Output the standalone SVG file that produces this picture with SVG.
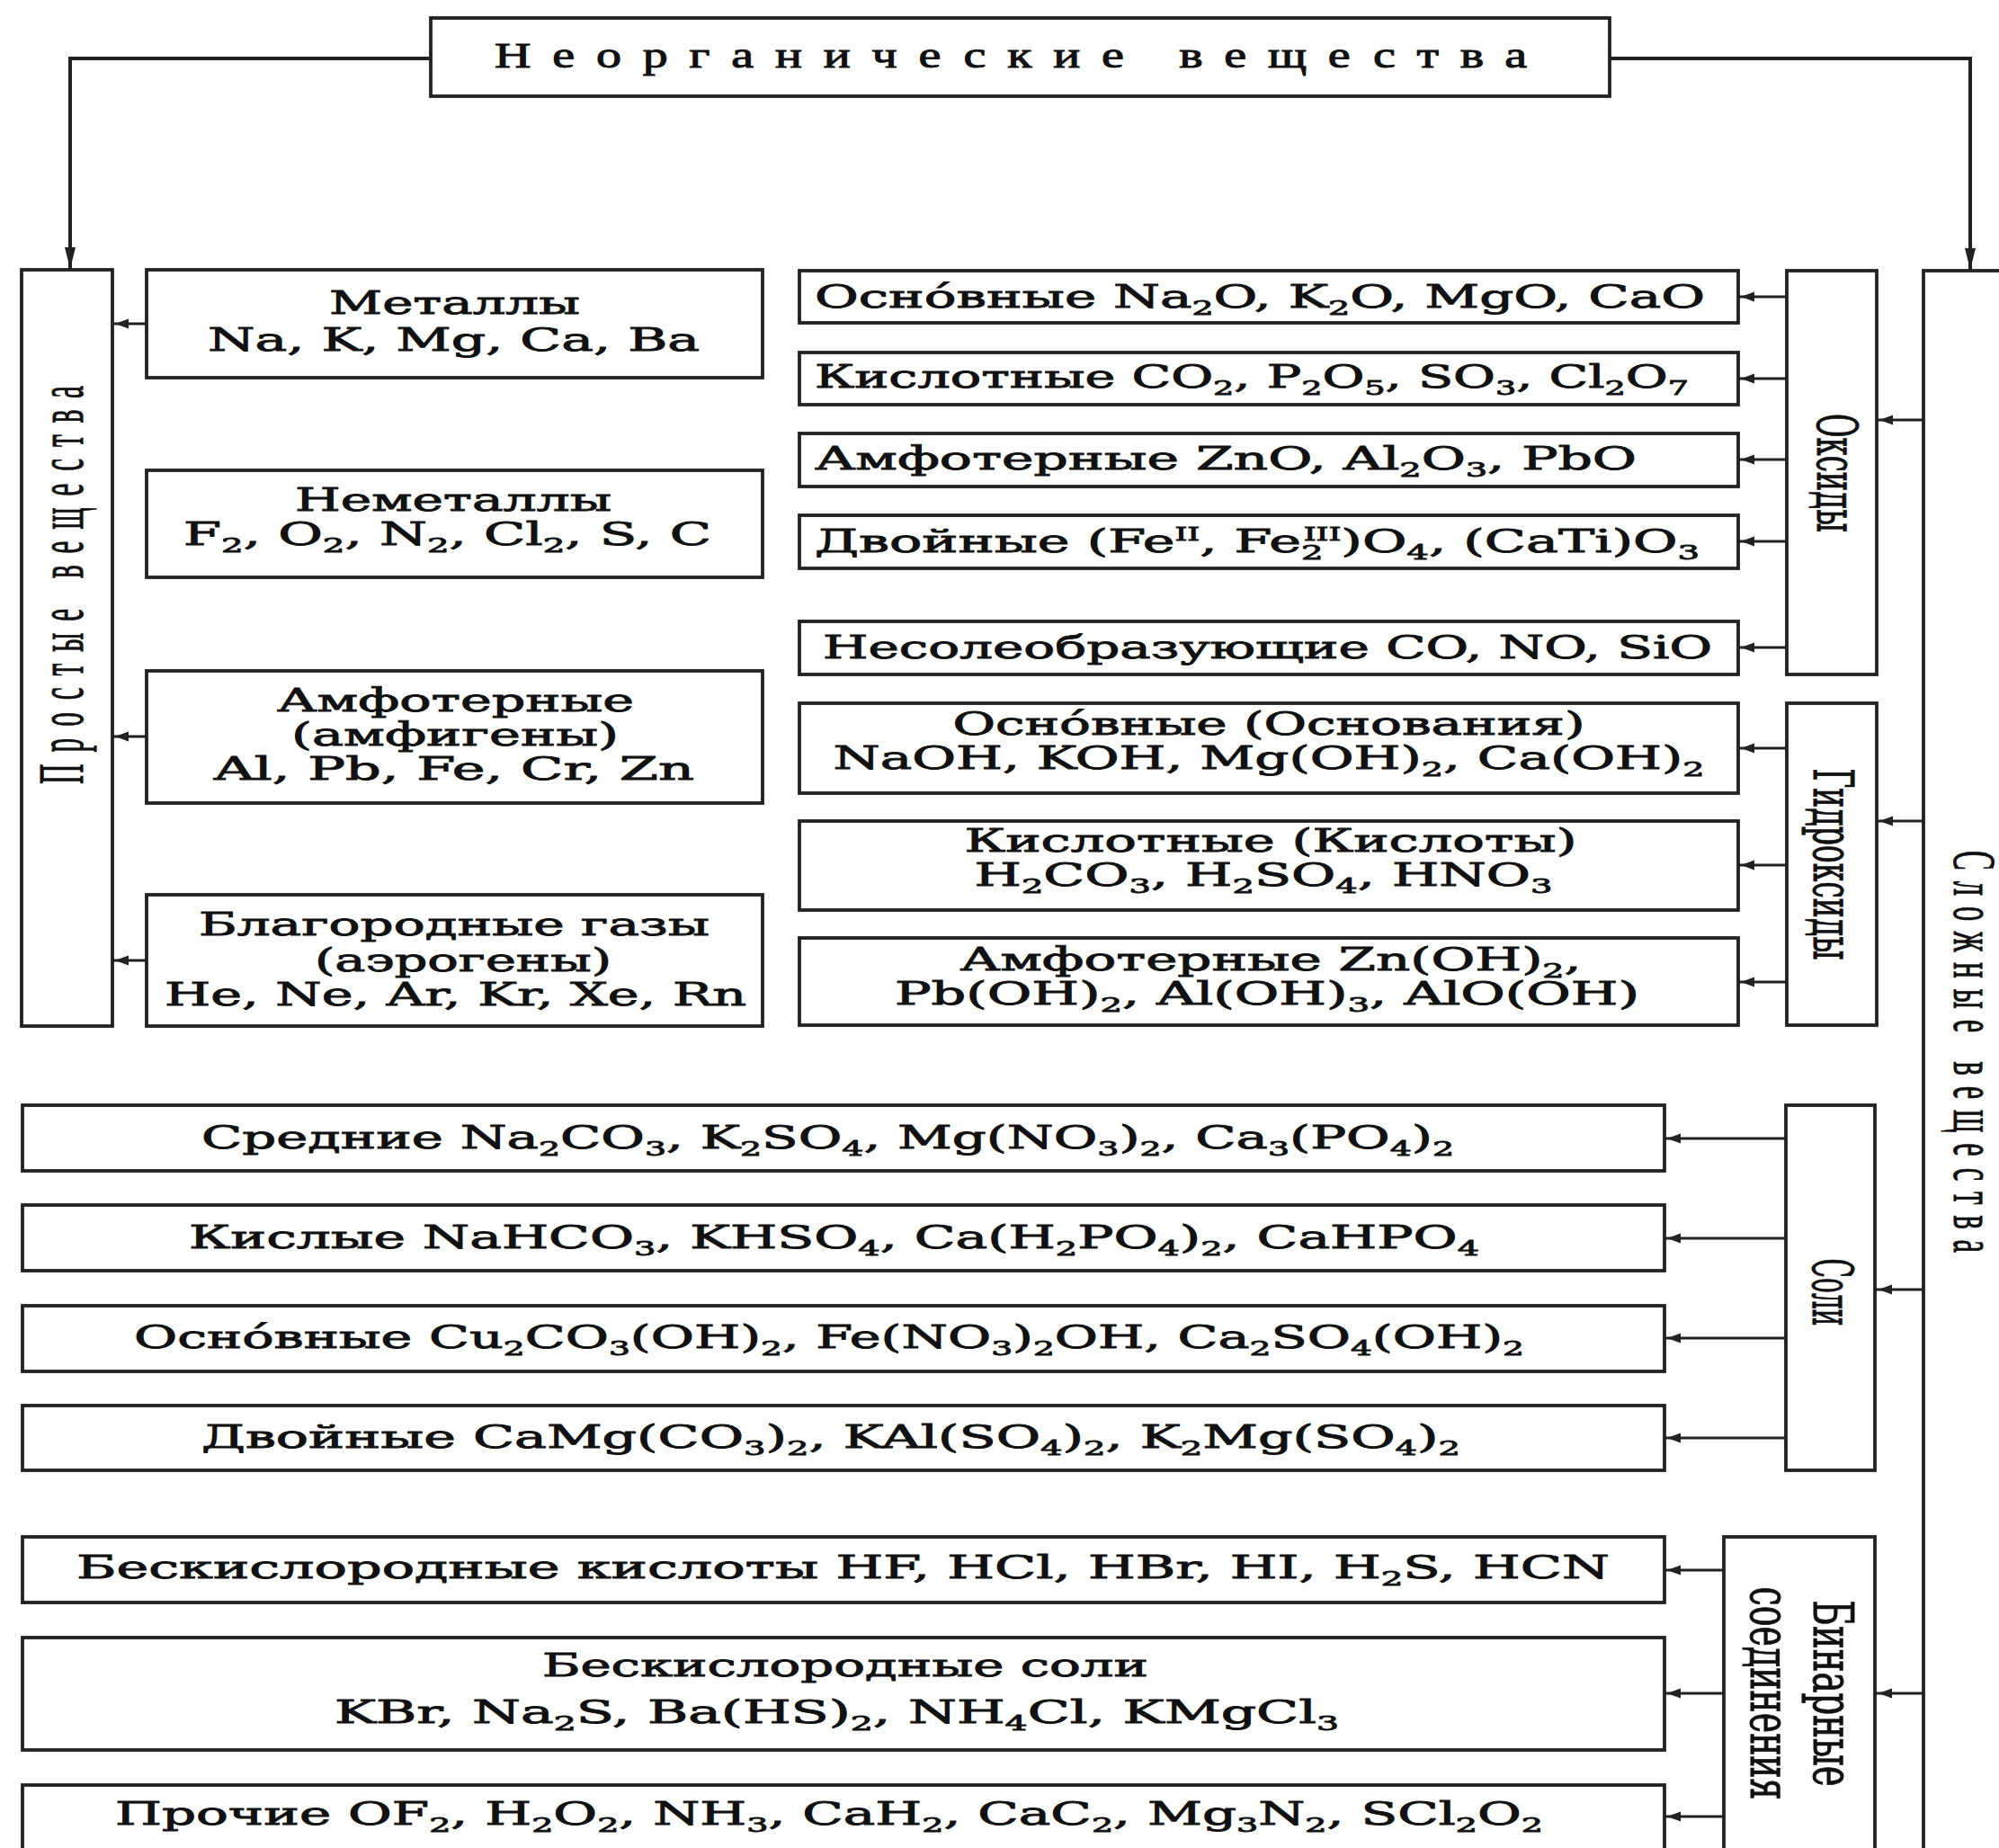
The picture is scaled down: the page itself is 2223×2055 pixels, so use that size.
<svg xmlns="http://www.w3.org/2000/svg" width="2223" height="2055" viewBox="0 0 2223 2055">
<style>
.bx{fill:#fff;stroke:#222;stroke-width:3.8}
.t{font-family:"DejaVu Serif","Liberation Serif",serif;font-size:36px;fill:#111;stroke:#111;stroke-width:0.9px}
.c{text-anchor:middle}
.d{font-size:23px;baseline-shift:-8px}
.u{font-size:21px;baseline-shift:13px}
.v{font-family:"DejaVu Serif","Liberation Serif",serif;font-size:62px;fill:#111;stroke:#111;stroke-width:1px;text-anchor:middle}
.sp{font-family:"Liberation Serif","DejaVu Serif",serif;fill:#111;stroke:#111;stroke-width:1px}
.ln{fill:none;stroke:#222;stroke-width:2.8}
.lb{fill:none;stroke:#222;stroke-width:4}
</style>
<defs>
<marker id="ab" markerUnits="userSpaceOnUse" markerWidth="26" markerHeight="14" refX="24" refY="7" orient="auto"><path d="M0,1 L24,7 L0,13 z" fill="#222"/></marker>
<marker id="as" markerUnits="userSpaceOnUse" markerWidth="24" markerHeight="12" refX="18" refY="6" orient="auto"><path d="M0,0.5 L15,6 L0,11.5 z" fill="#222"/></marker>
</defs>
<rect width="2223" height="2055" fill="#fff"/>

<g id="connectors">
<path class="lb" d="M479,65 H78 V299" marker-end="url(#ab)"/>
<path class="lb" d="M1790,65 H2191 V300" marker-end="url(#ab)"/>
<path class="ln" d="M163,360 H125" marker-end="url(#as)"/>
<path class="ln" d="M163,819 H125" marker-end="url(#as)"/>
<path class="ln" d="M163,1068 H125" marker-end="url(#as)"/>
<path class="ln" d="M1987,330 H1933" marker-end="url(#as)"/>
<path class="ln" d="M1987,421 H1933" marker-end="url(#as)"/>
<path class="ln" d="M1987,511 H1933" marker-end="url(#as)"/>
<path class="ln" d="M1987,602 H1933" marker-end="url(#as)"/>
<path class="ln" d="M1987,720 H1933" marker-end="url(#as)"/>
<path class="ln" d="M1987,832 H1933" marker-end="url(#as)"/>
<path class="ln" d="M1987,962 H1933" marker-end="url(#as)"/>
<path class="ln" d="M1987,1092 H1933" marker-end="url(#as)"/>
<path class="ln" d="M1986,1266 H1851" marker-end="url(#as)"/>
<path class="ln" d="M1986,1377 H1851" marker-end="url(#as)"/>
<path class="ln" d="M1986,1488 H1851" marker-end="url(#as)"/>
<path class="ln" d="M1986,1599 H1851" marker-end="url(#as)"/>
<path class="ln" d="M1917,1746 H1851" marker-end="url(#as)"/>
<path class="ln" d="M1917,1883 H1851" marker-end="url(#as)"/>
<path class="ln" d="M1917,2020 H1851" marker-end="url(#as)"/>
<path class="ln" d="M2139,467 H2087" marker-end="url(#as)"/>
<path class="ln" d="M2139,913 H2087" marker-end="url(#as)"/>
<path class="ln" d="M2139,1434 H2086" marker-end="url(#as)"/>
<path class="ln" d="M2139,1883 H2086" marker-end="url(#as)"/>
</g>

<g id="root">
<rect class="bx" x="479" y="20" width="1311" height="87"/>
<text class="sp" x="550" y="75" font-size="40" letter-spacing="17" textLength="1172" lengthAdjust="spacingAndGlyphs">Неорганические вещества</text>
</g>

<g id="simple">
<rect class="bx" x="24" y="300" width="101" height="841"/>
<text class="sp" transform="translate(92,872) rotate(-90)" font-size="72" letter-spacing="30" textLength="456" lengthAdjust="spacingAndGlyphs">Простые вещества</text>
</g>
<g id="metals">
<rect class="bx" x="163" y="300" width="685" height="120"/>
<text class="t" x="366" y="349" textLength="279" lengthAdjust="spacingAndGlyphs">Металлы</text>
<text class="t" x="231" y="390" textLength="547" lengthAdjust="spacingAndGlyphs">Na, K, Mg, Ca, Ba</text>
</g>
<g id="nonmetals">
<rect class="bx" x="163" y="523" width="685" height="119"/>
<text class="t" x="328" y="568" textLength="352" lengthAdjust="spacingAndGlyphs">Неметаллы</text>
<text class="t" x="204" y="606" textLength="587" lengthAdjust="spacingAndGlyphs">F<tspan class="d">2</tspan>, O<tspan class="d">2</tspan>, N<tspan class="d">2</tspan>, Cl<tspan class="d">2</tspan>, S, C</text>
</g>
<g id="amphoteric">
<rect class="bx" x="163" y="746" width="685" height="147"/>
<text class="t" x="308" y="791" textLength="397" lengthAdjust="spacingAndGlyphs">Амфотерные</text>
<text class="t" x="324" y="829" textLength="364" lengthAdjust="spacingAndGlyphs">(амфигены)</text>
<text class="t" x="238" y="867" textLength="534" lengthAdjust="spacingAndGlyphs">Al, Pb, Fe, Cr, Zn</text>
</g>
<g id="noble">
<rect class="bx" x="163" y="995" width="685" height="146"/>
<text class="t" x="221" y="1040" textLength="568" lengthAdjust="spacingAndGlyphs">Благородные газы</text>
<text class="t" x="350" y="1080" textLength="330" lengthAdjust="spacingAndGlyphs">(аэрогены)</text>
<text class="t" x="183" y="1118" textLength="647" lengthAdjust="spacingAndGlyphs">He, Ne, Ar, Kr, Xe, Rn</text>
</g>

<g id="complex">
<rect class="bx" x="2139" y="301" width="130" height="1800"/>
<text class="sp" transform="translate(2173,946) rotate(90)" font-size="68" letter-spacing="25" textLength="459" lengthAdjust="spacingAndGlyphs">Сложные вещества</text>
</g>

<g id="oxides">
<rect class="bx" x="1987" y="301" width="100" height="449"/>
<text class="v" transform="translate(2021,526) rotate(90)" textLength="132" lengthAdjust="spacingAndGlyphs">Оксиды</text>
</g>
<g id="ox-basic">
<rect class="bx" x="889" y="301" width="1044" height="58"/>
<text class="t" x="906" y="342" textLength="990" lengthAdjust="spacingAndGlyphs">Осно&#769;вные Na<tspan class="d">2</tspan>O, K<tspan class="d">2</tspan>O, MgO, CaO</text>
</g>
<g id="ox-acid">
<rect class="bx" x="889" y="392" width="1044" height="58"/>
<text class="t" x="906" y="431" textLength="972" lengthAdjust="spacingAndGlyphs">Кислотные CO<tspan class="d">2</tspan>, P<tspan class="d">2</tspan>O<tspan class="d">5</tspan>, SO<tspan class="d">3</tspan>, Cl<tspan class="d">2</tspan>O<tspan class="d">7</tspan></text>
</g>
<g id="ox-amph">
<rect class="bx" x="889" y="482" width="1044" height="59"/>
<text class="t" x="906" y="522" textLength="914" lengthAdjust="spacingAndGlyphs">Амфотерные ZnO, Al<tspan class="d">2</tspan>O<tspan class="d">3</tspan>, PbO</text>
</g>
<g id="ox-double">
<rect class="bx" x="889" y="573" width="1044" height="59"/>
<text class="t" x="906" y="614" textLength="984" lengthAdjust="spacingAndGlyphs">Двойные (Fe<tspan class="u">II</tspan>, Fe<tspan class="d">2</tspan><tspan class="u" dx="-13">III</tspan>)O<tspan class="d">4</tspan>, (CaTi)O<tspan class="d">3</tspan></text>
</g>
<g id="ox-nonsalt">
<rect class="bx" x="889" y="691" width="1044" height="59"/>
<text class="t" x="915" y="732" textLength="989" lengthAdjust="spacingAndGlyphs">Несолеобразующие CO, NO, SiO</text>
</g>

<g id="hydroxides">
<rect class="bx" x="1987" y="782" width="100" height="358"/>
<text class="v" transform="translate(2017,961) rotate(90)" textLength="213" lengthAdjust="spacingAndGlyphs">Гидроксиды</text>
</g>
<g id="hy-basic">
<rect class="bx" x="889" y="782" width="1044" height="100"/>
<text class="t c" x="1411" y="817" textLength="703" lengthAdjust="spacingAndGlyphs">Осно&#769;вные (Основания)</text>
<text class="t c" x="1411" y="855" textLength="969" lengthAdjust="spacingAndGlyphs">NaOH, KOH, Mg(OH)<tspan class="d">2</tspan>, Ca(OH)<tspan class="d">2</tspan></text>
</g>
<g id="hy-acid">
<rect class="bx" x="889" y="913" width="1044" height="99"/>
<text class="t c" x="1413" y="947" textLength="681" lengthAdjust="spacingAndGlyphs">Кислотные (Кислоты)</text>
<text class="t c" x="1405" y="985" textLength="643" lengthAdjust="spacingAndGlyphs">H<tspan class="d">2</tspan>CO<tspan class="d">3</tspan>, H<tspan class="d">2</tspan>SO<tspan class="d">4</tspan>, HNO<tspan class="d">3</tspan></text>
</g>
<g id="hy-amph">
<rect class="bx" x="889" y="1043" width="1044" height="97"/>
<text class="t c" x="1413" y="1079" textLength="691" lengthAdjust="spacingAndGlyphs">Амфотерные Zn(OH)<tspan class="d">2</tspan>,</text>
<text class="t c" x="1409" y="1117" textLength="828" lengthAdjust="spacingAndGlyphs">Pb(OH)<tspan class="d">2</tspan>, Al(OH)<tspan class="d">3</tspan>, AlO(OH)</text>
</g>

<g id="salts">
<rect class="bx" x="1986" y="1229" width="99" height="406"/>
<text class="v" transform="translate(2016,1437) rotate(90)" textLength="75" lengthAdjust="spacingAndGlyphs">Соли</text>
</g>
<g id="salt-normal">
<rect class="bx" x="25" y="1229" width="1826" height="73"/>
<text class="t" x="224" y="1277" textLength="1393" lengthAdjust="spacingAndGlyphs">Средние Na<tspan class="d">2</tspan>CO<tspan class="d">3</tspan>, K<tspan class="d">2</tspan>SO<tspan class="d">4</tspan>, Mg(NO<tspan class="d">3</tspan>)<tspan class="d">2</tspan>, Ca<tspan class="d">3</tspan>(PO<tspan class="d">4</tspan>)<tspan class="d">2</tspan></text>
</g>
<g id="salt-acid">
<rect class="bx" x="25" y="1340" width="1826" height="73"/>
<text class="t" x="210" y="1388" textLength="1435" lengthAdjust="spacingAndGlyphs">Кислые NaHCO<tspan class="d">3</tspan>, KHSO<tspan class="d">4</tspan>, Ca(H<tspan class="d">2</tspan>PO<tspan class="d">4</tspan>)<tspan class="d">2</tspan>, CaHPO<tspan class="d">4</tspan></text>
</g>
<g id="salt-basic">
<rect class="bx" x="25" y="1452" width="1826" height="73"/>
<text class="t" x="149" y="1499" textLength="1546" lengthAdjust="spacingAndGlyphs">Осно&#769;вные Cu<tspan class="d">2</tspan>CO<tspan class="d">3</tspan>(OH)<tspan class="d">2</tspan>, Fe(NO<tspan class="d">3</tspan>)<tspan class="d">2</tspan>OH, Ca<tspan class="d">2</tspan>SO<tspan class="d">4</tspan>(OH)<tspan class="d">2</tspan></text>
</g>
<g id="salt-double">
<rect class="bx" x="25" y="1563" width="1826" height="72"/>
<text class="t" x="224" y="1610" textLength="1400" lengthAdjust="spacingAndGlyphs">Двойные CaMg(CO<tspan class="d">3</tspan>)<tspan class="d">2</tspan>, KAl(SO<tspan class="d">4</tspan>)<tspan class="d">2</tspan>, K<tspan class="d">2</tspan>Mg(SO<tspan class="d">4</tspan>)<tspan class="d">2</tspan></text>
</g>

<g id="binary">
<rect class="bx" x="1917" y="1709" width="168" height="400"/>
<text class="v" transform="translate(2017,1883) rotate(90)" textLength="207" lengthAdjust="spacingAndGlyphs">Бинарные</text>
<text class="v" transform="translate(1947,1883) rotate(90)" textLength="237" lengthAdjust="spacingAndGlyphs">соединения</text>
</g>
<g id="bin-acid">
<rect class="bx" x="25" y="1709" width="1826" height="73"/>
<text class="t" x="85" y="1755" textLength="1705" lengthAdjust="spacingAndGlyphs">Бескислородные кислоты HF, HCl, HBr, HI, H<tspan class="d">2</tspan>S, HCN</text>
</g>
<g id="bin-salt">
<rect class="bx" x="25" y="1821" width="1826" height="125"/>
<text class="t" x="603" y="1864" textLength="674" lengthAdjust="spacingAndGlyphs">Бескислородные соли</text>
<text class="t" x="372" y="1916" textLength="1117" lengthAdjust="spacingAndGlyphs">KBr, Na<tspan class="d">2</tspan>S, Ba(HS)<tspan class="d">2</tspan>, NH<tspan class="d">4</tspan>Cl, KMgCl<tspan class="d">3</tspan></text>
</g>
<g id="bin-other">
<rect class="bx" x="25" y="1985" width="1826" height="120"/>
<text class="t" x="128" y="2029" textLength="1588" lengthAdjust="spacingAndGlyphs">Прочие OF<tspan class="d">2</tspan>, H<tspan class="d">2</tspan>O<tspan class="d">2</tspan>, NH<tspan class="d">3</tspan>, CaH<tspan class="d">2</tspan>, CaC<tspan class="d">2</tspan>, Mg<tspan class="d">3</tspan>N<tspan class="d">2</tspan>, SCl<tspan class="d">2</tspan>O<tspan class="d">2</tspan></text>
</g>
</svg>
